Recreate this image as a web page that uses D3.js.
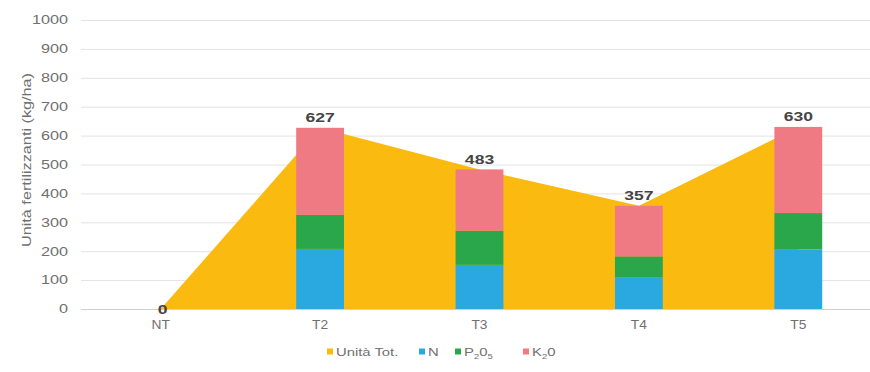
<!DOCTYPE html>
<html><head><meta charset="utf-8">
<script src="https://cdn.jsdelivr.net/npm/d3@7"></script>
<style>
html,body{margin:0;padding:0;background:#fff;}
text{font-family:"Liberation Sans",Arial,sans-serif;}
</style></head>
<body>
<svg id="c" width="870" height="372"></svg>
<script>
const categories = ["NT","T2","T3","T4","T5"];
const totals = [0,627,483,357,630];
const nVals = [0,208,153,110,206];
const pVals = [0,118,118,72,126];
const kVals = [0,301,212,175,298];
const yTicks = [0,100,200,300,400,500,600,700,800,900,1000];
const legendLabels = ["Unità Tot.","N","P₂0₅","K₂0"];
const colors = {tot:"#FBBA10", n:"#2AA9E0", p:"#2AA64B", k:"#EF7A84"};

const svg = d3.select("#c");
const x = d3.scaleBand().domain(categories).range([81,878]);
const y = d3.scaleLinear().domain([0,1000]).range([309,20]);
const cx = c => x(c) + x.bandwidth()/2;
const SX = 1.35; // horizontal text stretch seen in the reference

// gridlines
svg.append("g").selectAll("line").data(yTicks).join("line")
  .attr("x1",81).attr("x2",870)
  .attr("y1",d=>y(d)+0.5).attr("y2",d=>y(d)+0.5)
  .attr("stroke",d=>d===0?"#d0d0d0":"#e3e3e3").attr("stroke-width",1);

// y tick labels
svg.append("g").selectAll("text").data(yTicks).join("text")
  .attr("transform",d=>`translate(68,${y(d)+4.3}) scale(${SX},1)`)
  .attr("text-anchor","end").attr("font-size",12).attr("fill","#707070")
  .text(d=>d);

// y axis title
svg.append("text")
  .attr("transform","translate(31,160) rotate(-90)")
  .attr("text-anchor","middle").attr("font-size",13).attr("fill","#707070")
  .attr("textLength",174).attr("lengthAdjust","spacingAndGlyphs")
  .text("Unità fertilizzanti (kg/ha)");

// area
const area = d3.area().x((d,i)=>cx(categories[i])).y0(y(0)).y1(d=>y(d));
svg.append("path").datum(totals).attr("d",area).attr("fill",colors.tot);

// stacked bars
const rows = categories.map((c,i)=>({cat:c,n:nVals[i],p:pVals[i],k:kVals[i]}));
const stack = d3.stack().keys(["n","p","k"])(rows);
const bw = x.bandwidth()*0.30;
svg.append("g").selectAll("g").data(stack).join("g")
  .attr("fill",s=>colors[s.key])
  .selectAll("rect").data(s=>s.filter(d=>d[1]-d[0]>0)).join("rect")
  .attr("x",d=>cx(d.data.cat)-bw/2).attr("width",bw)
  .attr("y",d=>y(d[1])).attr("height",d=>y(d[0])-y(d[1]));

// data labels
svg.append("g").selectAll("text").data(totals).join("text")
  .attr("transform",(d,i)=>`translate(${cx(categories[i])+(d===0?2:0)},${d===0? y(d)+4.5 : y(d)-5.5}) scale(${SX},1)`)
  .attr("text-anchor","middle").attr("font-size",13).attr("font-weight","bold").attr("fill","#444")
  .text(d=>d);

// x labels
svg.append("g").selectAll("text").data(categories).join("text")
  .attr("transform",c=>`translate(${cx(c)},328.5) scale(1.15,1)`)
  .attr("text-anchor","middle").attr("font-size",12).attr("fill","#707070")
  .text(c=>c);

// legend
const legItems = [
  {parts:[["Unità Tot.",0]], color:colors.tot, x:327},
  {parts:[["N",0]], color:colors.n, x:419},
  {parts:[["P",0],["2",1],["0",0],["5",1]], color:colors.p, x:455},
  {parts:[["K",0],["2",1],["0",0]], color:colors.k, x:523}
];
legItems.forEach((d,i)=>d.label=legendLabels[i]);
const lg = svg.append("g").selectAll("g").data(legItems).join("g")
  .attr("transform",d=>`translate(${d.x},352)`);
lg.append("rect").attr("x",0).attr("y",-3.5).attr("width",6).attr("height",6).attr("fill",d=>d.color);
const lt = lg.append("text").attr("transform",`translate(9,4) scale(${SX},1)`)
  .attr("font-size",11).attr("fill","#707070");
lt.selectAll("tspan").data(d=>d.parts).join("tspan")
  .attr("font-size",p=>p[1]?7:11)
  .attr("dy",(p,j,nodes)=>{
    const prev = j>0 ? d3.select(nodes[j-1]).datum()[1] : 0;
    return (p[1]?3:0) - (prev?3:0);
  })
  .text(p=>p[0]);
</script>
</body></html>
